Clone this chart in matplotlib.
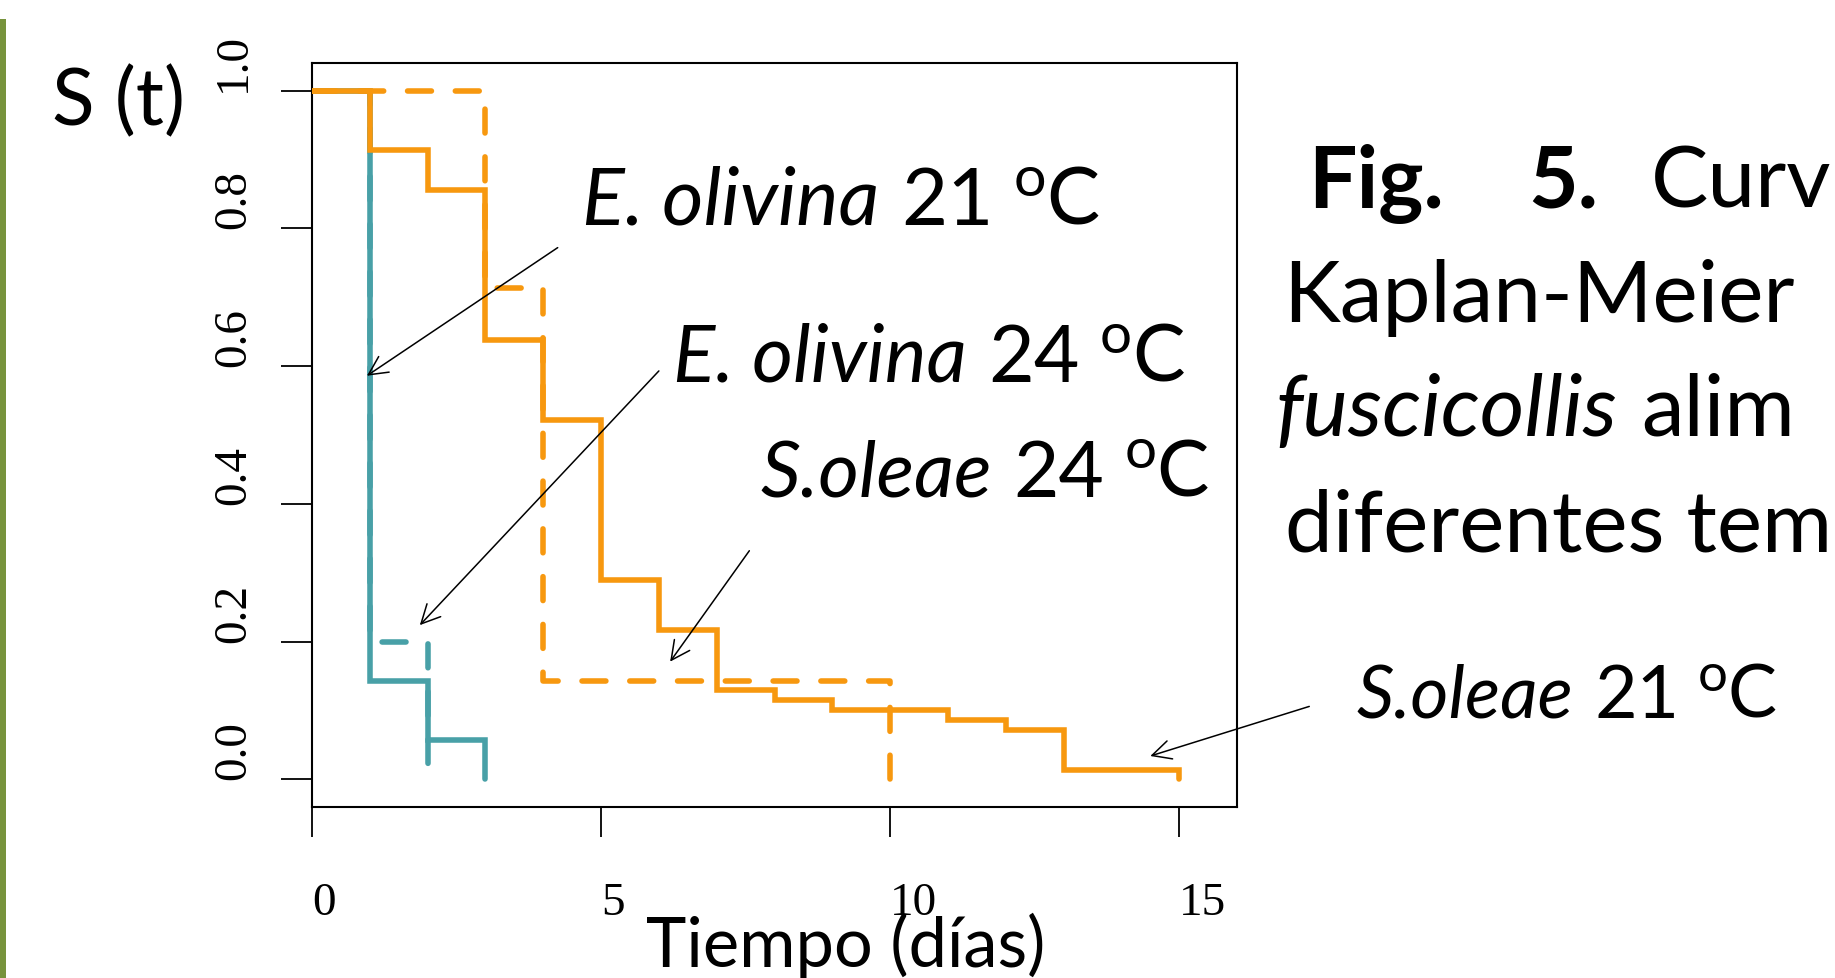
import matplotlib
matplotlib.use("Agg")
import matplotlib.pyplot as plt
from matplotlib.patches import Rectangle

# ---------------- data ----------------
teal_solid_t = [0, 1, 2, 3]
teal_solid_s = [1.0, 0.143, 0.057, 0.0]
teal_dash_t = [0, 1, 2]
teal_dash_s = [1.0, 0.2, 0.0]
orange_solid_t = [0, 1, 2, 3, 4, 5, 6, 7, 8, 9, 11, 12, 13, 15]
orange_solid_s = [1.0, 0.913, 0.855, 0.638, 0.522, 0.290, 0.217, 0.130,
                  0.116, 0.101, 0.087, 0.072, 0.014, 0.0]
orange_dash_t = [0, 3, 4, 10]
orange_dash_s = [1.0, 0.714, 0.143, 0.0]

x_ticks = [0, 5, 10, 15]
x_tick_labels = ["0", "5", "10", "15"]
y_ticks = [0.0, 0.2, 0.4, 0.6, 0.8, 1.0]
y_tick_labels = ["0.0", "0.2", "0.4", "0.6", "0.8", "1.0"]

# curve labels: species (italic), temperature
label_species = ["E. olivina", "E. olivina", "S.oleae", "S.oleae"]
label_temps = ["21", "24", "24", "21"]

TEAL = "#48A0A7"
ORANGE = "#F7980F"
GREEN = "#77933C"

W, H = 1835, 979
plt.rcParams["font.family"] = ["Lato", "DejaVu Sans"]

fig = plt.figure(figsize=(W / 100, H / 100), dpi=100)
fig.patch.set_facecolor("white")


def fx(px):
    return px / W


def fy(py):
    return 1 - py / H


ax = fig.add_axes([fx(312), fy(808), fx(1237) - fx(312), fy(64) - fy(808)])
ax.set_xlim(0, 16)
ax.set_ylim(-0.04, 1.04)

LW = 4.0
ax.step(teal_solid_t, teal_solid_s, where="post", color=TEAL, lw=LW,
        solid_capstyle="round", solid_joinstyle="miter", zorder=3)
ax.step(teal_dash_t, teal_dash_s, where="post", color=TEAL, lw=LW,
        dashes=(4.3, 4.3), dash_capstyle="round", zorder=3)
ax.step(orange_solid_t, orange_solid_s, where="post", color=ORANGE, lw=LW,
        solid_capstyle="round", solid_joinstyle="miter", zorder=4)
ax.step(orange_dash_t, orange_dash_s, where="post", color=ORANGE, lw=LW,
        dashes=(4.3, 4.3), dash_capstyle="round", zorder=4)

for sp in ax.spines.values():
    sp.set_linewidth(1.5)
    sp.set_color("black")

ax.set_xticks(x_ticks)
ax.set_xticklabels(x_tick_labels, ha="left", fontfamily="Liberation Serif", fontsize=34)
ax.set_yticks(y_ticks)
ax.set_yticklabels(y_tick_labels, rotation=90, ha="right", va="bottom",
                   fontfamily="Liberation Serif", fontsize=34)
ax.tick_params(axis="x", direction="out", length=21.6, width=1.3, pad=32)
ax.tick_params(axis="y", direction="out", length=22, width=1.3, pad=19)

# arrows (tail -> head, data coordinates)
arrows = [((4.25, 0.772), (0.95, 0.586)),
          ((6.0, 0.593), (1.865, 0.224)),
          ((7.565, 0.332), (6.195, 0.171)),
          ((17.25, 0.106), (14.5, 0.034))]
for tail, head in arrows:
    ax.annotate("", xy=head, xytext=tail, xycoords="data", textcoords="data",
                annotation_clip=False,
                arrowprops=dict(arrowstyle="->,head_length=0.9,head_width=0.45",
                                lw=1.1, color="black", shrinkA=0, shrinkB=0,
                                mutation_scale=15), zorder=6)

fig.canvas.draw()
renderer = fig.canvas.get_renderer()


def text_w(t):
    return t.get_window_extent(renderer).width


def space_w(fs, style="normal", weight="normal"):
    a = fig.text(0, 0, "n n", fontsize=fs, style=style, weight=weight)
    b = fig.text(0, 0, "nn", fontsize=fs, style=style, weight=weight)
    w = text_w(a) - text_w(b)
    a.remove()
    b.remove()
    return w


def compose(x_px, base_px, pieces, fs):
    """pieces: list of (string, kind); kind in rm, it, bf, sup, sp"""
    made = []
    x = x_px
    for s, kind in pieces:
        if kind == "sp":
            x += space_w(fs)
            continue
        style = "italic" if kind == "it" else "normal"
        weight = "bold" if kind == "bf" else "normal"
        size = fs * 0.72 if kind == "sup" else fs
        y = base_px - (0.37 * fs * 100 / 72 if kind == "sup" else 0)
        t = fig.text(fx(x), fy(y), s, fontsize=size, style=style, weight=weight,
                     ha="left", va="baseline", color="black")
        made.append(t)
        x += text_w(t) + (0.03 * fs if kind == "it" else 0)
    return made, x - x_px


def compose_fit(x_px, base_px, pieces, target_w, fs0=50):
    made, w = compose(x_px, base_px, pieces, fs0)
    for t in made:
        t.remove()
    fs = fs0 * target_w / w
    compose(x_px, base_px, pieces, fs)
    return fs


# curve labels: (left px, baseline px, target width px)
label_pos = [(582, 225, 518), (673, 382, 512), (760, 497, 449), (1357, 718, 420)]
for sp_name, temp, (lx, by, tw) in zip(label_species, label_temps, label_pos):
    compose_fit(lx, by, [(sp_name, "it"), (" ", "sp"), (temp, "rm"), (" ", "sp"),
                         ("o", "sup"), ("C", "rm")], tw)

# axis titles
t = fig.text(fx(52), fy(125), "S (t)", fontsize=46, ha="left", va="baseline")
t.set_fontsize(46 * 133 / text_w(t))
t = fig.text(fx(646), fy(967), "Tiempo (días)", fontsize=44, ha="left", va="baseline")
t.set_fontsize(44 * 400 / text_w(t))

# caption text on the right (as much as is visible)
cap = fig.text(fx(1283), fy(322), "Kaplan-Meier", fontsize=58, ha="left", va="baseline")
cap.set_fontsize(58 * 512 / text_w(cap))
cs = cap.get_fontsize()
fig.text(fx(1308), fy(208), "Fig.", fontsize=cs, fontweight="bold", ha="left", va="baseline")
fig.text(fx(1528), fy(208), "5.", fontsize=cs, fontweight="bold", ha="left", va="baseline")
cv = fig.text(fx(1685), fy(208), "Curv", fontsize=cs, ha="left", va="baseline")
wcv = text_w(cv)
if 1685 + wcv > 1831:
    cv.set_x(fx(1831 - wcv))
made, _ = compose(1276, 436, [("fuscicollis", "it"), (" ", "sp"), ("alim", "rm")], cs)
dt = fig.text(fx(1285), fy(552), "diferentes tem", fontsize=cs, ha="left", va="baseline")
if text_w(dt) > 546:
    dt.set_fontsize(cs * 546 / text_w(dt))

# green slide bar at the left edge
fig.add_artist(Rectangle((0, 0), fx(6), fy(20), transform=fig.transFigure,
                         facecolor=GREEN, edgecolor="none"))

fig.savefig("out.png", dpi=100, facecolor="white")
